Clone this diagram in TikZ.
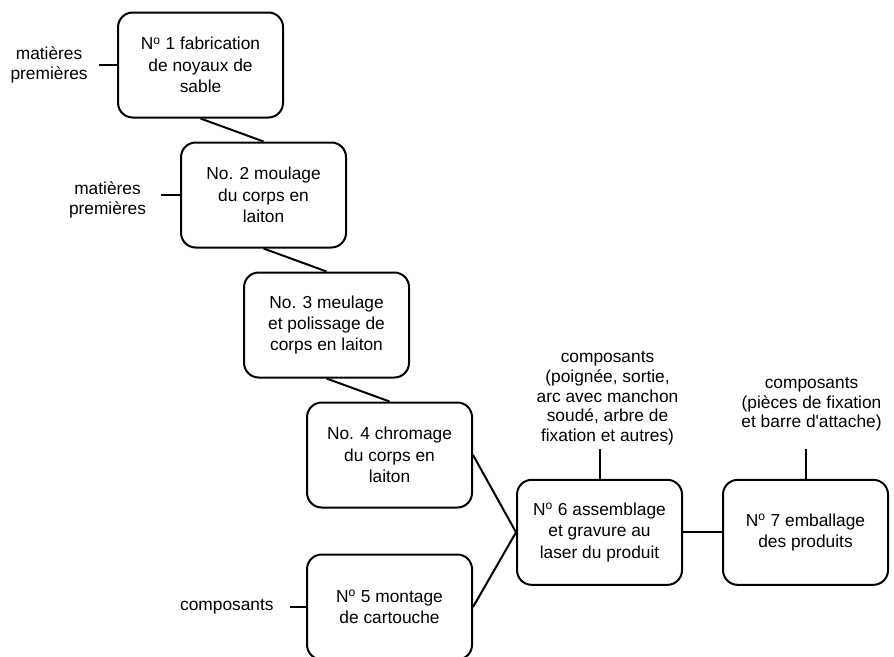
\documentclass[tikz,border=0pt]{standalone}
\usepackage{fontspec}
\setmainfont{Liberation Sans}
\usetikzlibrary{positioning}

\begin{document}
\begin{tikzpicture}
    [
        node distance=97.5pt and 47.25pt, on grid,
        step_node/.style={rectangle, rounded corners=11pt, draw=black, line width=1.5pt, minimum width=123.75pt, minimum height=78.75pt, align=center, font=\fontsize{13pt}{16pt}\selectfont},
        input_text/.style={align=center, font=\fontsize{13pt}{15pt}\selectfont},
        link/.style={line width=1.5pt, color=black},
    ]
        \useasboundingbox (0,0) rectangle (670.5pt,-492.75pt);
        \node[step_node] (s1) at (150.4pt,-48.75pt) {N\textsuperscript{o} 1 fabrication\\de noyaux de\\sable} ;
        \node[step_node] (s2) [below right = of s1] {No. 2 moulage\\du corps en\\laiton} ;
        \node[step_node] (s3) [below right = of s2] {No. 3 meulage\\et polissage de\\corps en laiton} ;
        \node[step_node] (s4) [below right = of s3] {No. 4 chromage\\du corps en\\laiton} ;
        \node[step_node] (s5) [below = 114pt of s4] {N\textsuperscript{o} 5 montage\\de cartouche} ;
        \node[step_node] (s6) [below right = 58pt and 157.5pt of s4] {N\textsuperscript{o} 6 assemblage\\et gravure au\\laser du produit} ;
        \node[step_node] (s7) [right = 154.5pt of s6] {N\textsuperscript{o} 7 emballage\\des produits} ;
        \node[input_text] (in1) [left = 113.6pt of s1] {matières\\premières} ;
        \node[input_text] (in2) [below left = 4pt and 117pt of s2] {matières\\premières} ;
        \node[input_text] (in5) [left = 122pt of s5] {composants} ;
        \node[input_text, font=\fontsize{13pt}{14.75pt}\selectfont] (in6) [above right = 100.5pt and 6pt of s6] {composants\\(poignée, sortie,\\arc avec manchon\\soudé, arbre de\\fixation et autres)} ;
        \node[input_text, font=\fontsize{13pt}{14.75pt}\selectfont] (in7) [above right = 96pt and 4.5pt of s7] {composants\\(pièces de fixation\\et barre d\textquotesingle attache)} ;
        \coordinate[left = 13.5pt of s1.west] (e1) ;
        \coordinate[left = 14pt of s2.west] (e2) ;
        \coordinate[left = 12pt of s5.west] (e5) ;
        \coordinate[above = 22.5pt of s6.north] (e6) ;
        \coordinate[above = 22.5pt of s7.north] (e7) ;
        \draw[link] (s1.south) -- (s2.north) ;
        \draw[link] (s2.south) -- (s3.north) ;
        \draw[link] (s3.south) -- (s4.north) ;
        \draw[link] (s4.east) -- (s6.west) ;
        \draw[link] (s5.east) -- (s6.west) ;
        \draw[link] (s6.east) -- (s7.west) ;
        \draw[link] (e1) -- (s1.west) ;
        \draw[link] (e2) -- (s2.west) ;
        \draw[link] (e5) -- (s5.west) ;
        \draw[link] (e6) -- (s6.north) ;
        \draw[link] (e7) -- (s7.north) ;
    \end{tikzpicture}
\end{document}
